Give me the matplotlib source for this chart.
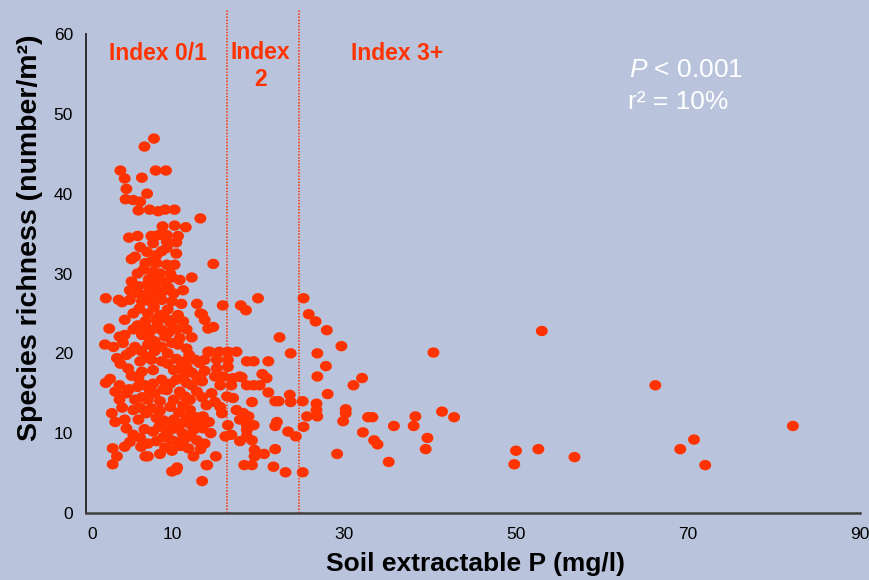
import numpy as np
import matplotlib
matplotlib.use("Agg")
import matplotlib.pyplot as plt
from matplotlib.transforms import ScaledTranslation

# ---------------- data (soil extractable P mg/l, species richness /m2) ----------------
index01_points = [
    (7.9, 46.9), (6.8, 45.9), (4.0, 42.9), (8.1, 42.9), (9.3, 42.9), (4.5, 41.9), (6.5, 42.0),
    (4.7, 40.6), (7.1, 40.0), (4.6, 39.3), (5.5, 39.2), (6.3, 39.0), (6.1, 37.9), (7.4, 38.0),
    (8.4, 37.8), (9.2, 38.0), (10.3, 38.0), (13.3, 36.9), (8.9, 35.9), (10.3, 36.0), (11.6, 35.8),
    (5.0, 34.5), (6.0, 34.7), (7.6, 34.7), (8.4, 34.8), (9.4, 34.8), (10.7, 34.7), (7.8, 33.8),
    (9.4, 34.0), (10.5, 33.9), (9.4, 33.2), (10.5, 32.5), (5.7, 32.1), (5.3, 31.8), (7.1, 32.7),
    (8.2, 32.3), (14.8, 31.2), (6.9, 31.3), (8.2, 31.3), (9.4, 31.1), (10.3, 31.1), (6.7, 30.5),
    (7.8, 30.2), (8.6, 30.0), (9.8, 30.0), (5.3, 29.0), (9.2, 28.9), (10.9, 29.2), (12.3, 29.5),
    (6.1, 28.4), (7.1, 28.6), (8.0, 28.4), (5.1, 27.9), (6.1, 27.5), (7.2, 27.5), (8.2, 27.5),
    (10.2, 27.5), (11.3, 27.9), (2.3, 26.9), (3.8, 26.7), (4.2, 26.4), (5.1, 26.7), (6.5, 26.5),
    (7.6, 26.4), (8.8, 26.7), (10.0, 26.5), (11.1, 26.2), (12.9, 26.2),
    (5.5, 25.0), (7.2, 25.0), (8.6, 24.8), (9.2, 24.4), (10.7, 24.8), (13.3, 25.0),
    (4.5, 24.2), (6.9, 24.0), (8.2, 24.2), (9.8, 23.8), (11.3, 24.0), (13.8, 24.2),
    (2.7, 23.1), (5.5, 23.0), (7.6, 22.9), (8.8, 22.9), (10.5, 23.0), (11.7, 23.0), (14.2, 23.1),
    (14.8, 23.3), (3.9, 22.1), (4.5, 22.3), (7.4, 21.9), (9.2, 22.1), (10.9, 21.9), (12.3, 22.0),
    (2.2, 21.1), (3.2, 20.8), (4.3, 21.3), (5.7, 20.8), (7.2, 21.1), (8.8, 20.8), (10.7, 21.1),
    (11.7, 20.6), (14.2, 20.2), (3.6, 19.4), (4.7, 19.8), (6.3, 19.0), (7.6, 19.2), (8.8, 19.0),
    (11.5, 19.0), (12.7, 19.2), (4.9, 18.1), (6.5, 17.7), (7.8, 17.9), (10.2, 17.9), (11.7, 18.3),
    (12.9, 17.1), (2.3, 16.3), (3.9, 16.0), (6.1, 16.9), (6.9, 16.0), (8.8, 16.7), (10.5, 16.7),
    (11.7, 16.3), (3.4, 15.2), (4.7, 15.0), (7.4, 15.4), (9.4, 15.4), (10.9, 15.2), (12.9, 15.2),
    (3.9, 14.2), (5.7, 14.2), (7.2, 14.2), (8.6, 14.0), (10.2, 14.2), (12.1, 14.2),
    (5.5, 12.9), (7.6, 13.1), (9.8, 13.3), (12.1, 12.9), (3.4, 11.4), (4.5, 11.7), (6.1, 11.7),
    (8.2, 11.9), (10.2, 11.7), (11.7, 11.9), (13.6, 12.1), (4.7, 10.6), (5.5, 9.8), (7.8, 10.2),
    (9.4, 10.0), (10.7, 10.8), (12.5, 10.4), (13.6, 10.6), (5.1, 8.9), (6.3, 9.4), (7.2, 8.7),
    (10.0, 9.1), (10.5, 8.9), (12.9, 9.1), (13.8, 8.7), (3.1, 8.1), (4.5, 8.3), (6.9, 7.1),
    (7.2, 7.1), (8.6, 7.4), (10.0, 7.8), (11.9, 8.1), (12.5, 7.1), (3.1, 6.1), (10.5, 5.4),
    (10.0, 5.2), (10.6, 5.7), (14.0, 6.0), (13.5, 4.0), (3.6, 7.1), (15.1, 7.1),
    (6.0, 30.0), (7.3, 29.3), (8.5, 29.2), (9.6, 28.2), (6.8, 27.0), (9.0, 27.8), (7.6, 31.5),
    (8.8, 32.8), (6.3, 33.3), (10.0, 29.5),
    (6.2, 25.6), (7.9, 25.8), (9.5, 25.5), (6.0, 23.5), (7.0, 23.2), (8.3, 23.5), (9.6, 22.6),
    (10.2, 24.2), (6.5, 22.3), (8.0, 21.5),
    (5.2, 20.2), (6.4, 20.3), (8.0, 20.3), (9.5, 20.0), (10.0, 21.3), (7.1, 19.6), (9.5, 18.7),
    (10.5, 19.3), (12.0, 19.8), (13.2, 18.8), (11.0, 18.2), (12.3, 17.6), (13.8, 17.8),
    (5.3, 17.2), (6.0, 15.8), (7.8, 16.2), (8.0, 15.0), (9.0, 15.5), (9.8, 16.2), (11.3, 17.1),
    (12.3, 16.0), (13.5, 16.5), (5.0, 15.5), (6.5, 14.5), (11.5, 14.6), (13.5, 14.5), (14.0, 13.5),
    (6.3, 13.2), (7.0, 12.5), (8.6, 12.8), (9.0, 11.6), (10.8, 12.6), (11.3, 13.5), (12.8, 12.0),
    (9.2, 10.9), (10.0, 10.5), (11.2, 10.0), (12.0, 11.2), (13.0, 11.3), (8.5, 10.8), (11.0, 11.2),
    (6.8, 10.5), (14.3, 11.4), (14.5, 10.0),
    (8.2, 9.0), (9.0, 9.5), (11.4, 9.2), (12.1, 9.6), (11.0, 8.4), (6.4, 8.3), (13.3, 8.0), (9.2, 8.2),
    (4.0, 18.7), (2.8, 16.8), (4.2, 13.2), (3.0, 12.5),
    (14.4, 20.2), (15.5, 20.2), (13.8, 19.2), (15.2, 19.2), (15.2, 18.1), (13.3, 17.1),
    (15.0, 17.1), (16.0, 17.1), (15.6, 16.0), (14.6, 15.0), (15.0, 13.9), (15.6, 13.3),
    (15.8, 12.5), (14.1, 6.0), (15.9, 26.0), (13.5, 24.9),
]

index2_points = [
    (16.5, 20.2), (17.5, 20.2), (16.5, 19.2), (16.5, 18.3), (17.1, 16.9), (17.9, 17.1),
    (16.9, 16.0), (16.4, 14.6), (17.1, 14.4), (17.5, 12.9), (18.3, 12.5), (18.9, 12.1),
    (17.9, 11.7), (18.7, 11.0), (19.5, 11.0), (16.5, 11.0), (16.2, 9.6), (16.9, 9.8),
    (17.9, 9.0), (18.7, 10.4), (18.7, 9.6), (19.3, 9.1), (19.6, 7.9), (19.6, 7.1),
    (18.4, 6.0), (19.3, 6.0), (20.0, 26.9), (18.0, 26.0), (18.6, 25.4), (22.5, 22.0),
    (23.8, 20.0), (18.7, 19.0), (19.5, 19.0), (21.2, 19.0), (20.5, 17.4), (21.0, 16.9),
    (18.7, 16.0), (19.5, 16.0), (20.2, 16.0), (18.1, 17.0), (21.2, 15.1), (22.0, 14.0),
    (22.4, 14.0), (23.7, 14.8), (23.8, 13.9), (19.3, 13.9), (22.2, 11.4), (22.0, 10.9),
    (23.5, 10.2), (24.4, 9.6), (22.0, 8.0), (21.8, 5.8), (23.2, 5.1), (20.7, 7.4),
]

index3_points = [
    (25.3, 26.9), (25.9, 24.9), (26.7, 24.0), (28.0, 22.9), (29.7, 20.9), (26.9, 20.0),
    (27.9, 18.4), (26.9, 17.1), (28.1, 14.9), (25.2, 14.0), (26.8, 13.7), (26.8, 12.9),
    (26.9, 12.1), (25.7, 12.1), (25.3, 10.8), (25.2, 5.1), (29.2, 7.4),
    (32.1, 16.9), (31.1, 16.0), (30.2, 13.0), (30.2, 12.5), (29.9, 11.5), (33.3, 12.0),
    (32.8, 12.0), (35.8, 10.9), (38.3, 12.1), (38.1, 10.9), (41.4, 12.7), (42.8, 12.0),
    (32.2, 10.1), (33.5, 9.1), (33.9, 8.6), (39.7, 9.4), (39.5, 8.0), (35.2, 6.4),
    (53.0, 22.8), (40.4, 20.1), (66.2, 16.0), (82.2, 10.9), (50.0, 7.8), (49.8, 6.1),
    (52.6, 8.0), (56.8, 7.0), (70.7, 9.2), (69.1, 8.0), (72.0, 6.0),
]

index_bounds = [16.4, 24.8]
x_ticks = [0, 10, 30, 50, 70, 90]
y_ticks = [0, 10, 20, 30, 40, 50, 60]
index_labels = ["Index 0/1", "Index\n2", "Index 3+"]
index_label_x = [8.4, 20.3, 36.2]

# ---------------- style ----------------
BG = "#B9C4DC"
RED = "#FF3300"
plt.rcParams["font.family"] = ["Liberation Sans", "DejaVu Sans"]
plt.rcParams["mathtext.fontset"] = "custom"
plt.rcParams["mathtext.rm"] = "Liberation Sans"
plt.rcParams["mathtext.it"] = "Liberation Sans:italic"
plt.rcParams["mathtext.bf"] = "Liberation Sans:bold"

fig = plt.figure(figsize=(8.69, 5.80), dpi=100, facecolor=BG)
ax = fig.add_axes([86 / 869, 1 - 513 / 580, (860 - 86) / 869, (513 - 34) / 580])
ax.set_facecolor(BG)

theta = np.linspace(0, 2 * np.pi, 40)
ellipse = np.column_stack([np.cos(theta), 0.87 * np.sin(theta)])

all_pts = index01_points + index2_points + index3_points
px = [p[0] for p in all_pts]
py = [p[1] for p in all_pts]
ax.scatter(px, py, s=74, marker=ellipse, color=RED, edgecolors="none", zorder=3)

for b in index_bounds:
    ax.plot([b, b], [0, 63], ls=(0, (1, 1)), lw=1.1, color=RED, clip_on=False, zorder=2)

ax.set_xlim(0, 90)
ax.set_ylim(0, 60)
ax.set_xticks(x_ticks)
ax.set_yticks(y_ticks)
ax.tick_params(length=0, labelsize=12.5, colors="black")
ax.tick_params(axis="y", pad=9.4)
ax.tick_params(axis="x", pad=10)
first_tick = ax.xaxis.get_major_ticks()[0]
first_tick.label1.set_transform(first_tick.label1.get_transform()
                                + ScaledTranslation(0.06, 0, fig.dpi_scale_trans))
for s in ["top", "right"]:
    ax.spines[s].set_visible(False)
ax.spines["left"].set_color("#222222")
ax.spines["left"].set_linewidth(1.3)
ax.spines["bottom"].set_color("#404040")
ax.spines["bottom"].set_linewidth(1.8)

for lab, lx in zip(index_labels, index_label_x):
    ax.text(lx, 57.5 if "\n" not in lab else 56.0, lab, color=RED, fontsize=16.5,
            fontweight="bold", ha="center", va="center", linespacing=1.25)

fig.text(629 / 869, 1 - 70 / 580, r"$P$ < 0.001", color="white", fontsize=19,
         ha="left", va="center")
fig.text(628 / 869, 1 - 102 / 580, "r² = 10%", color="white", fontsize=19,
         ha="left", va="center")

fig.text(476 / 869, 1 - 564 / 580, "Soil extractable P (mg/l)", fontsize=19,
         fontweight="bold", ha="center", va="center")
fig.text(30 / 869, 1 - 238 / 580, "Species richness (number/m²)", fontsize=20.5,
         fontweight="bold", ha="center", va="center", rotation=90)

fig.savefig("out.png", dpi=100, facecolor=BG)
